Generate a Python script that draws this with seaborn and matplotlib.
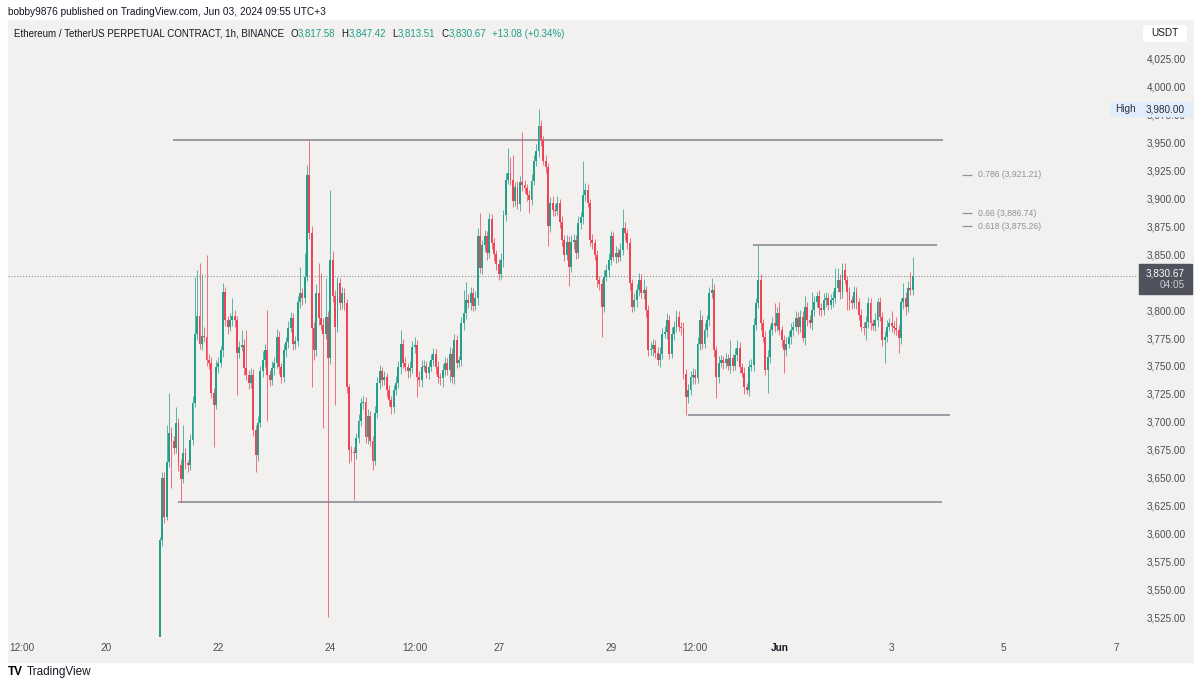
import numpy as np
import pandas as pd
import matplotlib
matplotlib.use("Agg")
import matplotlib.pyplot as plt
from matplotlib.patches import Rectangle, FancyBboxPatch
import seaborn as sns

# ETHUSDT perpetual, 1h candles from May 20 23:00 to Jun 3 09:00 (UTC+3)
first_open = 3505.0
closes = [
    3594, 3650, 3615, 3664, 3690, 3683, 3676, 3699, 3661, 3649,
    3672, 3663, 3661, 3684, 3717, 3779, 3795, 3770, 3777, 3776,
    3755, 3753, 3726, 3715, 3749, 3753, 3764, 3816, 3791, 3785,
    3791, 3795, 3791, 3762, 3767, 3769, 3748, 3742, 3735, 3742,
    3693, 3670, 3699, 3745, 3755, 3764, 3742, 3737, 3748, 3753,
    3776, 3749, 3740, 3764, 3771, 3784, 3793, 3770, 3772, 3807,
    3815, 3811, 3830, 3921, 3869, 3784, 3764, 3815, 3793, 3787,
    3779, 3794, 3757, 3845, 3813, 3785, 3824, 3806, 3815, 3806,
    3731, 3675, 3673, 3672, 3685, 3701, 3717, 3718, 3686, 3705,
    3683, 3665, 3708, 3735, 3745, 3737, 3740, 3728, 3719, 3713,
    3728, 3735, 3749, 3770, 3753, 3749, 3745, 3748, 3767, 3769,
    3740, 3737, 3749, 3750, 3744, 3749, 3755, 3761, 3749, 3740,
    3739, 3746, 3753, 3746, 3761, 3740, 3773, 3753, 3755, 3788,
    3797, 3809, 3806, 3815, 3804, 3811, 3866, 3838, 3858, 3866,
    3851, 3882, 3860, 3850, 3841, 3832, 3845, 3885, 3917, 3923,
    3917, 3898, 3910, 3895, 3915, 3912, 3909, 3903, 3899, 3916,
    3934, 3943, 3965, 3952, 3934, 3928, 3875, 3896, 3890, 3889,
    3896, 3879, 3863, 3849, 3861, 3839, 3861, 3863, 3851, 3878,
    3883, 3903, 3908, 3896, 3863, 3860, 3849, 3827, 3823, 3803,
    3830, 3836, 3845, 3866, 3848, 3851, 3848, 3854, 3874, 3869,
    3860, 3824, 3803, 3809, 3818, 3827, 3815, 3818, 3800, 3764,
    3765, 3769, 3762, 3755, 3761, 3779, 3780, 3791, 3761, 3779,
    3785, 3794, 3785, 3784, 3743, 3722, 3728, 3740, 3742, 3739,
    3770, 3791, 3770, 3782, 3791, 3815, 3818, 3764, 3740, 3753,
    3755, 3753, 3756, 3750, 3757, 3750, 3760, 3766, 3749, 3744,
    3731, 3728, 3749, 3751, 3787, 3806, 3827, 3788, 3776, 3746,
    3758, 3782, 3788, 3786, 3797, 3782, 3773, 3764, 3770, 3776,
    3782, 3785, 3793, 3785, 3794, 3775, 3803, 3791, 3788, 3800,
    3807, 3813, 3802, 3800, 3809, 3811, 3805, 3809, 3811, 3820,
    3827, 3816, 3836, 3827, 3816, 3809, 3806, 3816, 3807, 3796,
    3785, 3784, 3789, 3806, 3788, 3786, 3791, 3807, 3794, 3773,
    3776, 3785, 3788, 3786, 3784, 3782, 3775, 3807, 3811, 3803,
    3820, 3817.58, 3830.67,
]
# wick lengths above / below the body, in USDT
upper_wick = [
    3, 5, 5, 33, 36, 5, 4, 14, 4, 6,
    25, 4, 3, 5, 6, 51, 41, 47, 55, 8,
    73, 6, 5, 4, 6, 5, 4, 8, 5, 4,
    6, 16, 5, 4, 5, 13, 5, 34, 4, 6,
    5, 4, 6, 5, 8, 6, 36, 4, 6, 5,
    7, 5, 4, 6, 5, 6, 5, 4, 5, 6,
    24, 5, 21, 9, 31, 6, 5, 8, 27, 40,
    6, 35, 5, 63, 8, 5, 6, 5, 6, 5,
    4, 3, 3, 4, 5, 6, 4, 5, 4, 6,
    5, 4, 6, 5, 6, 4, 5, 4, 5, 4,
    5, 6, 5, 12, 4, 5, 4, 6, 5, 7,
    4, 5, 6, 5, 4, 5, 6, 5, 4, 5,
    4, 6, 5, 4, 6, 5, 6, 5, 4, 6,
    21, 16, 5, 6, 5, 6, 8, 21, 5, 6,
    5, 5, 4, 5, 4, 5, 6, 5, 6, 22,
    14, 22, 5, 6, 5, 45, 5, 4, 5, 6,
    5, 6, 15, 5, 4, 5, 4, 5, 6, 5,
    6, 4, 5, 4, 6, 5, 6, 5, 4, 6,
    5, 31, 6, 5, 4, 5, 4, 5, 4, 5,
    6, 5, 6, 5, 4, 6, 5, 6, 17, 5,
    4, 5, 4, 6, 5, 6, 5, 10, 4, 5,
    6, 5, 4, 5, 6, 5, 6, 6, 5, 6,
    5, 6, 5, 4, 5, 4, 6, 5, 6, 5,
    6, 9, 5, 6, 5, 6, 11, 5, 4, 6,
    5, 4, 6, 5, 16, 4, 6, 7, 5, 4,
    5, 4, 6, 5, 6, 5, 31, 5, 4, 5,
    6, 5, 6, 18, 6, 10, 4, 5, 6, 5,
    6, 5, 6, 5, 6, 5, 10, 4, 5, 16,
    6, 3, 5, 4, 6, 5, 4, 5, 6, 18,
    11, 5, 6, 6, 4, 5, 4, 6, 5, 4,
    5, 4, 6, 6, 5, 4, 6, 4, 5, 4,
    5, 6, 5, 11, 4, 10, 5, 4, 13, 5,
    6, 14, 16.75,
]
lower_wick = [
    0, 5, 6, 3, 5, 42, 5, 4, 5, 21,
    4, 5, 6, 4, 5, 4, 6, 5, 6, 5,
    5, 6, 5, 38, 4, 5, 4, 6, 5, 6,
    4, 5, 6, 38, 5, 4, 6, 5, 6, 5,
    6, 15, 5, 4, 5, 6, 41, 5, 4, 6,
    5, 6, 5, 4, 6, 5, 4, 6, 5, 4,
    5, 6, 5, 4, 5, 53, 9, 5, 6, 5,
    85, 5, 232, 5, 6, 70, 5, 6, 5, 6,
    5, 12, 8, 42, 5, 4, 5, 6, 5, 6,
    5, 8, 4, 5, 6, 5, 4, 6, 5, 6,
    5, 4, 5, 6, 5, 4, 6, 5, 4, 5,
    18, 5, 6, 4, 5, 6, 4, 5, 6, 5,
    6, 8, 5, 4, 10, 5, 6, 5, 4, 5,
    6, 5, 4, 6, 5, 4, 6, 5, 6, 5,
    6, 4, 5, 6, 5, 5, 4, 6, 5, 4,
    5, 6, 5, 4, 6, 5, 4, 5, 12, 5,
    4, 5, 6, 5, 4, 5, 18, 5, 6, 5,
    4, 5, 6, 5, 4, 17, 5, 6, 5, 4,
    5, 6, 5, 4, 6, 5, 4, 6, 5, 27,
    5, 4, 6, 5, 4, 6, 5, 4, 5, 6,
    5, 6, 5, 4, 6, 5, 4, 5, 6, 5,
    4, 6, 5, 4, 6, 5, 4, 6, 5, 4,
    6, 5, 4, 6, 5, 16, 5, 4, 6, 5,
    4, 6, 5, 4, 6, 5, 4, 6, 19, 5,
    4, 6, 5, 4, 6, 5, 4, 6, 5, 4,
    6, 3, 5, 4, 6, 5, 4, 6, 5, 4,
    20, 5, 4, 6, 5, 4, 6, 20, 5, 4,
    6, 5, 4, 6, 5, 4, 6, 5, 4, 6,
    5, 4, 6, 5, 4, 6, 5, 4, 6, 5,
    4, 6, 5, 4, 16, 9, 5, 4, 6, 5,
    4, 6, 11, 5, 6, 4, 5, 6, 4, 5,
    20, 5, 4, 6, 5, 4, 13, 5, 6, 7,
    5, 4, 4.07,
]

# drawn horizontal levels (hours counted from May 20 00:00)
level_prices = [3952.4, 3858.3, 3706.0, 3628.0]
level_start = [28.7, 276.7, 248.9, 30.8]
level_end = [358.0, 355.4, 361.0, 357.6]

fib_ratios = ["0.786", "0.66", "0.618"]
fib_prices = [3921.21, 3886.74, 3875.26]

last_price = 3830.67
countdown = "04:05"
day_high = 3980.00

# 3,825 sits under the last-price badge in the screenshot, so it is not labelled
price_ticks = [3525, 3550, 3575, 3600, 3625, 3650, 3675, 3700, 3725, 3750, 3775,
               3800, 3850, 3875, 3900, 3925, 3950, 3975, 4000, 4025]
time_tick_hours = [-36, 0, 48, 96, 132, 168, 216, 252, 288, 336, 384, 432]
time_tick_labels = ["12:00", "20", "22", "24", "12:00", "27", "29", "12:00", "Jun", "3", "5", "7"]

title_text = "Ethereum / TetherUS PERPETUAL CONTRACT, 1h, BINANCE"
header_ohlc = [("O", "3,817.58"), ("H", "3,847.42"), ("L", "3,813.51"), ("C", "3,830.67")]
header_change = "+13.08 (+0.34%)"
byline = "bobby9876 published on TradingView.com, Jun 03, 2024 09:55 UTC+3"

GREEN = "#22a08c"
RED = "#ef4456"
PANEL = "#f2f1ef"
TEXT = "#131722"
AXTEXT = "#4a4d57"
LEVEL = "#8a8d94"

sns.set_theme(style="white")
plt.rcParams["font.family"] = ["Liberation Sans", "DejaVu Sans"]

W, H = 1200, 684


def fx(px):
    return px / W


def fy(py):
    return 1 - py / H


times = pd.date_range("2024-05-20 23:00", periods=len(closes), freq="h")
df = pd.DataFrame({
    "hour": (times - pd.Timestamp("2024-05-20")) / pd.Timedelta(hours=1),
    "close": closes,
    "open": [first_open] + closes[:-1],
})
df["top"] = df[["open", "close"]].max(axis=1)
df["bot"] = df[["open", "close"]].min(axis=1)
df["high"] = df["top"] + upper_wick
df["low"] = df["bot"] - lower_wick
colors = np.where(df["close"] >= df["open"], GREEN, RED)

fig = plt.figure(figsize=(12, 6.84), dpi=100, facecolor="white")
fig.patches.append(Rectangle((fx(8), fy(662)), fx(1193) - fx(8), fy(20) - fy(662),
                             transform=fig.transFigure, color=PANEL, zorder=-10))

ax = fig.add_axes([fx(8), fy(637), fx(1138) - fx(8), fy(20) - fy(637)])
ax.set_facecolor(PANEL)
for s in ax.spines.values():
    s.set_visible(False)

# candles
ax.vlines(df["hour"], df["low"], df["high"], colors=colors, lw=0.65, alpha=0.8, zorder=3)
body = (df["top"] - df["bot"]).clip(lower=0.9)
ax.bar(df["hour"], body, bottom=df["bot"], width=0.82, color=colors, linewidth=0, zorder=4)

# horizontal levels
ax.hlines(level_prices, level_start, level_end, colors=LEVEL, lw=1.2, zorder=2)

# last price dotted line
ax.axhline(last_price, color="#8a8d94", lw=0.8, ls=(0, (1, 1.6)), zorder=1)

# fib labels
fib_x0 = (962 - 106) / 2.338
fib_x1 = (972 - 106) / 2.338
fib_xt = (978 - 106) / 2.338
ax.hlines(fib_prices, fib_x0, fib_x1, colors="#8f929a", lw=0.9)
for r, p in zip(fib_ratios, fib_prices):
    ax.text(fib_xt, p, f"{r} ({p:,.2f})", fontsize=6.2, color="#8f929a", va="center", ha="left")

ax.set_xlim((8 - 106) / 2.338, (1138 - 106) / 2.338)
ax.set_ylim(4025 - (637 - 59) / 1.116, 4025 + (59 - 20) / 1.116)

ax.yaxis.tick_right()
ax.set_yticks(price_ticks)
ax.set_yticklabels([f"{v:,.2f}" for v in price_ticks])
ax.tick_params(axis="y", length=0, pad=6.5, labelsize=7.2, labelcolor=AXTEXT)
ax.set_xticks(time_tick_hours)
ax.set_xticklabels(time_tick_labels)
ax.tick_params(axis="x", length=0, pad=4, labelsize=7.2, labelcolor=AXTEXT)
for lab in ax.get_xticklabels():
    if lab.get_text() == "Jun":
        lab.set_fontweight("bold")
        lab.set_color(TEXT)
ax.grid(False)

# price scale badges
fig.patches.append(Rectangle((fx(1139), fy(294)), fx(1192) - fx(1139), fy(264) - fy(294),
                             transform=fig.transFigure, color="#50535e", zorder=5))
fig.text(fx(1185), fy(273), f"{last_price:,.2f}", fontsize=7.2, color="white",
         ha="right", va="center", zorder=6)
fig.text(fx(1185), fy(285.5), countdown, fontsize=7.2, color="#c9cbd1",
         ha="right", va="center", zorder=6)

fig.patches.append(Rectangle((fx(1110), fy(116)), fx(1192) - fx(1110), fy(101.5) - fy(116),
                             transform=fig.transFigure, color="#e2edfb", zorder=5))
fig.text(fx(1115), fy(109), "High", fontsize=7.2, color="#2a2e39", ha="left", va="center", zorder=6)
fig.text(fx(1185), fy(109), f"{day_high:,.2f}", fontsize=7.2, color="#2a2e39",
         ha="right", va="center", zorder=6)

fig.patches.append(FancyBboxPatch((fx(1143), fy(42)), fx(1187) - fx(1143), fy(25) - fy(42),
                                  boxstyle="round,pad=0,rounding_size=0.004",
                                  transform=fig.transFigure, facecolor="white",
                                  edgecolor="none", zorder=5))
fig.text(fx(1165), fy(33.5), "USDT", fontsize=7.2, color=TEXT, ha="center", va="center", zorder=6)

# header legend
t = ax.annotate(title_text, xy=(fx(14), fy(34)), xycoords="figure fraction",
                fontsize=7, color=TEXT, va="center", ha="left", annotation_clip=False)
prev = t
for letter, val in header_ohlc:
    a = ax.annotate(letter, xy=(1, 0.5), xycoords=prev, xytext=(4.5, 0), textcoords="offset points",
                    fontsize=7, color=TEXT, va="center", ha="left", annotation_clip=False)
    prev = ax.annotate(val, xy=(1, 0.5), xycoords=a, xytext=(0, 0), textcoords="offset points",
                       fontsize=7, color="#1e9e86", va="center", ha="left", annotation_clip=False)
ax.annotate(header_change, xy=(1, 0.5), xycoords=prev, xytext=(4.5, 0), textcoords="offset points",
            fontsize=7, color="#1e9e86", va="center", ha="left", annotation_clip=False)

fig.text(fx(8), fy(12), byline, fontsize=7.3, color=TEXT, ha="left", va="center")
fig.text(fx(8), fy(672), "TV", fontsize=8.5, color="black", fontweight="heavy",
         ha="left", va="center")
fig.text(fx(27), fy(672), "TradingView", fontsize=8.5, color=TEXT, ha="left", va="center")

fig.savefig("out.png", dpi=100, facecolor="white")
